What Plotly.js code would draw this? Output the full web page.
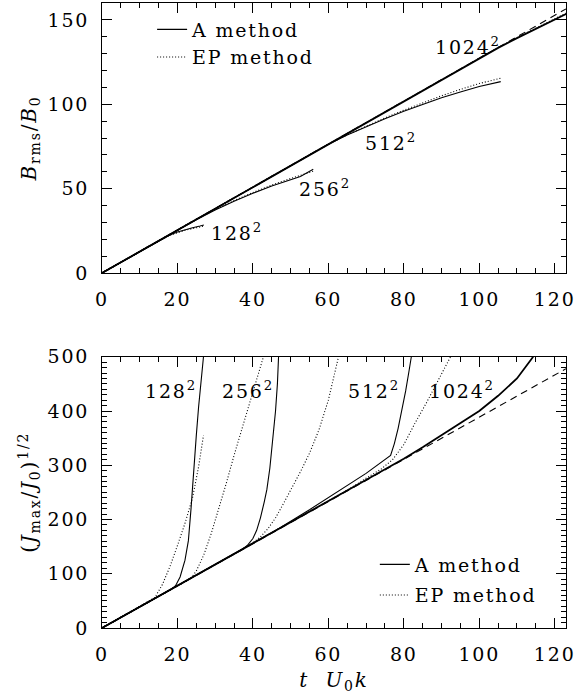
<!DOCTYPE html>
<html>
<head>
<meta charset="utf-8">
<script src="https://cdn.plot.ly/plotly-3.0.1.min.js"></script>
<style>
html,body{margin:0;padding:0;background:#fff;}
svg text{letter-spacing:1.8px;}
</style>
</head>
<body>
<div id="chart" style="width:585px;height:698px;"></div>
<script>
// ---------- Top panel: B_rms / B_0 ----------
const tRefB = [0, 123];
const bRef = [0, 156.5];

const tB1024 = [0, 20, 40, 60, 80, 100, 105, 110, 115, 120, 123];
const bA1024 = [0, 25.5, 51, 76.5, 102, 127.5, 133.4, 139.2, 144.8, 150.3, 153.5];
const bEP1024 = [0, 25.5, 51, 76.5, 102, 127.6, 133.6, 139.5, 145.2, 150.8, 154];

const tB512 = [0, 40, 60, 65, 70, 75, 80, 85, 90, 95, 100, 105.7];
const bA512 = [0, 51, 76.3, 81.8, 86.8, 91.4, 95.8, 100, 103.8, 107.3, 110.5, 113.4];
const bEP512 = [0, 51, 76.3, 81.9, 87.1, 91.9, 96.5, 100.9, 105, 108.8, 112.3, 115.4];

const tB256 = [0, 20, 25, 30, 35, 40, 45, 50, 52.6, 56];
const bA256 = [0, 25.5, 31.6, 37.3, 42.5, 47.2, 51.6, 55.3, 57.2, 61.5];
const bEP256 = [0, 25.5, 31.7, 37.6, 42.9, 47.7, 52.1, 56, 57.8, 60.3];

const tB128 = [0, 10, 15, 18, 20, 22, 24, 26, 27];
const bA128 = [0, 12.7, 19, 22.5, 24.3, 25.7, 26.8, 27.8, 28.4];
const bEP128 = [0, 12.7, 19, 22.3, 24, 25.3, 26.3, 27.2, 27.8];

// ---------- Bottom panel: (J_max / J_0)^(1/2) ----------
const tRefJ = [0, 123];
const jRef = [0, 478];

const tJA1024 = [0, 20, 40, 60, 70, 75, 80, 85, 90, 95, 100, 105, 110, 114.3];
const jA1024 = [0, 77.7, 155.4, 233, 272, 291, 312, 333, 355, 377, 400, 428, 460, 500];
const tJEP1024 = [0, 20, 40, 60, 65, 70, 74, 77, 80, 83, 86, 89, 92.4];
const jEP1024 = [0, 77.7, 155.4, 234, 254, 276, 293, 310, 338, 378, 415, 455, 500];

const tJA512 = [0, 20, 40, 47, 55, 62, 70, 76.5, 77.5, 78.5, 79.5, 80.5, 81.3, 82];
const jA512 = [0, 77.7, 155.4, 184, 218, 250, 285, 318, 340, 368, 400, 437, 470, 500];
const tJEP512 = [0, 20, 38, 40, 42, 44, 46, 48, 50, 52.6, 55, 57.5, 60, 62.7];
const jEP512 = [0, 77.7, 148, 157, 168, 183, 203, 228, 254, 288, 322, 365, 420, 500];

const tJA256 = [0, 20, 37, 38.5, 40, 41, 42, 43, 43.7, 44.5, 45.3, 46, 46.5, 46.8];
const jA256 = [0, 77.7, 144, 152, 165, 180, 203, 232, 255, 295, 345, 400, 450, 500];
const tJEP256 = [0, 20, 23.5, 25, 27, 29, 31, 33, 35, 37, 39, 41, 42.8];
const jEP256 = [0, 77.7, 91, 105, 135, 175, 220, 268, 318, 365, 412, 457, 500];

const tJA128 = [0, 18.5, 19.5, 20.7, 22, 22.9, 23.6, 24.2, 25, 25.6, 26.3, 26.9];
const jA128 = [0, 72, 78, 94, 125, 161, 220, 284, 355, 407, 460, 500];
const tJEP128 = [0, 12, 14, 16, 18, 20, 22, 24, 25.6, 26.9];
const jEP128 = [0, 47, 56, 80, 113, 152, 193, 240, 297, 355];

// Labels
const resLabels = ["128<sup>2</sup>", "256<sup>2</sup>", "512<sup>2</sup>", "1024<sup>2</sup>"];
const topLabelT = [35.8, 59.2, 76.5, 97.0];
const topLabelB = [24.3, 50.6, 77.7, 134.6];
const botLabelT = [18.3, 38.8, 72.2, 95.3];
const botLabelJ = [438, 438, 438, 438];

const FONT = "DejaVu Serif";
const solid = {color: "black", width: 1.1};
const dotted = {color: "black", width: 1.1, dash: "1px,2px"};
const dashed = {color: "black", width: 1.1, dash: "7px,5px"};

function tr(x, y, line, xa, ya, name, show, legend) {
  return {x: x, y: y, type: "scatter", mode: "lines", line: line,
          xaxis: xa, yaxis: ya, name: name, showlegend: !!show,
          legend: legend, legendgroup: name + legend, hoverinfo: "skip"};
}

const traces = [
  tr(tRefB, bRef, dashed, "x", "y", "linear", false, "legend"),
  tr(tB128, bA128, solid, "x", "y", "A method", true, "legend"),
  tr(tB128, bEP128, dotted, "x", "y", "EP method", true, "legend"),
  tr(tB256, bA256, solid, "x", "y", "A method", false, "legend"),
  tr(tB256, bEP256, dotted, "x", "y", "EP method", false, "legend"),
  tr(tB512, bA512, solid, "x", "y", "A method", false, "legend"),
  tr(tB512, bEP512, dotted, "x", "y", "EP method", false, "legend"),
  tr(tB1024, bEP1024, dotted, "x", "y", "EP method", false, "legend"),
  tr(tB1024, bA1024, {color: "black", width: 1.8}, "x", "y", "A method", false, "legend"),

  tr(tRefJ, jRef, dashed, "x2", "y2", "linear", false, "legend2"),
  tr(tJA128, jA128, solid, "x2", "y2", "A method", true, "legend2"),
  tr(tJEP128, jEP128, dotted, "x2", "y2", "EP method", true, "legend2"),
  tr(tJA256, jA256, solid, "x2", "y2", "A method", false, "legend2"),
  tr(tJEP256, jEP256, dotted, "x2", "y2", "EP method", false, "legend2"),
  tr(tJA512, jA512, solid, "x2", "y2", "A method", false, "legend2"),
  tr(tJEP512, jEP512, dotted, "x2", "y2", "EP method", false, "legend2"),
  tr(tJEP1024, jEP1024, dotted, "x2", "y2", "EP method", false, "legend2"),
  tr(tJA1024, jA1024, {color: "black", width: 1.8}, "x2", "y2", "A method", false, "legend2")
];

function xAxis(anchor, title) {
  const a = {
    anchor: anchor, domain: [0, 1], range: [0, 123],
    tick0: 0, dtick: 20, ticks: "inside", ticklen: 10, tickwidth: 1, tickcolor: "black",
    minor: {dtick: 5, ticks: "inside", ticklen: 5, tickwidth: 1, tickcolor: "black"},
    showline: true, linecolor: "black", linewidth: 1, mirror: "allticks",
    showgrid: false, zeroline: false, ticklabelstandoff: 9,
    tickfont: {family: FONT, size: 19, color: "black"}
  };
  if (title) a.title = {text: title, font: {family: FONT, size: 20, color: "black"}, standoff: 9};
  return a;
}
function yAxis(anchor, domain, range, dtick, title) {
  return {
    anchor: anchor, domain: domain, range: range,
    tick0: 0, dtick: dtick, ticks: "inside", ticklen: 10, tickwidth: 1, tickcolor: "black",
    minor: {dtick: 10, ticks: "inside", ticklen: 5, tickwidth: 1, tickcolor: "black"},
    showline: true, linecolor: "black", linewidth: 1, mirror: "allticks",
    showgrid: false, zeroline: false, ticklabelstandoff: 8,
    tickfont: {family: FONT, size: 19, color: "black"},
    title: {text: title, font: {family: FONT, size: 20, color: "black"}, standoff: 5}
  };
}

const annotations = [];
for (let i = 0; i < resLabels.length; i++) {
  annotations.push({x: topLabelT[i], y: topLabelB[i], xref: "x", yref: "y", text: resLabels[i],
    showarrow: false, font: {family: FONT, size: 19, color: "black"}});
  annotations.push({x: botLabelT[i], y: botLabelJ[i], xref: "x2", yref: "y2", text: resLabels[i],
    showarrow: false, font: {family: FONT, size: 19, color: "black"}});
}

const legendBase = {
  font: {family: FONT, size: 19, color: "black"}, bgcolor: "rgba(0,0,0,0)",
  borderwidth: 0, xanchor: "left", yanchor: "top", tracegroupgap: 0
};

const layout = {
  width: 585, height: 698,
  margin: {l: 102, r: 19, t: 3, b: 70, pad: 0},
  paper_bgcolor: "white", plot_bgcolor: "white",
  font: {family: FONT, size: 19, color: "black"},
  xaxis: xAxis("y", null),
  yaxis: yAxis("x", [0.568, 1], [0, 160], 50, "<i>B</i><sub>rms</sub>/<i>B</i><sub>0</sub>"),
  xaxis2: xAxis("y2", "<i>t</i>  <i>U</i><sub>0</sub><i>k</i>"),
  yaxis2: yAxis("x2", [0, 0.434], [0, 500], 100, "(<i>J</i><sub>max</sub>/<i>J</i><sub>0</sub>)<sup>1/2</sup>"),
  legend: Object.assign({}, legendBase, {x: 0.108, y: 0.988}),
  legend2: Object.assign({}, legendBase, {x: 0.588, y: 0.132, tracegroupgap: 3}),
  annotations: annotations,
  showlegend: true
};

Plotly.newPlot("chart", traces, layout, {staticPlot: true, displayModeBar: false});
</script>
</body>
</html>
